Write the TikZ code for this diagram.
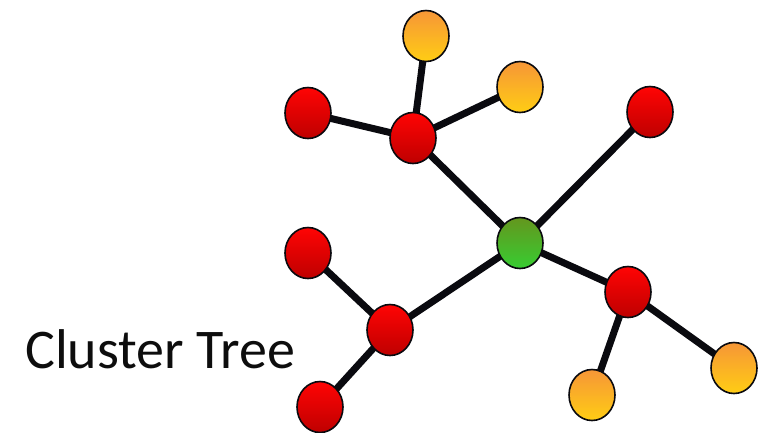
\documentclass[tikz,border=0pt]{standalone}
\usepackage{fontspec}
\setmainfont{Carlito}
\usetikzlibrary{shapes.geometric,backgrounds}
\definecolor{redtop}{RGB}{255,4,4}
\definecolor{redbot}{RGB}{190,0,0}
\definecolor{orgtop}{RGB}{246,150,55}
\definecolor{orgbot}{RGB}{255,205,20}
\definecolor{grntop}{RGB}{100,150,30}
\definecolor{grnbot}{RGB}{55,205,50}
\definecolor{edgeblk}{RGB}{10,10,15}
\tikzset{
  ball/.style={ellipse, draw=edgeblk, line width=1.6pt, inner sep=0pt,
    minimum width=46pt, minimum height=51pt},
  redball/.style={ball, top color=redtop, bottom color=redbot},
  orgball/.style={ball, top color=orgtop, bottom color=orgbot},
  grnball/.style={ball, top color=grntop, bottom color=grnbot},
  link/.style={draw=edgeblk, line width=7pt}
}
\begin{document}
\begin{tikzpicture}[x=1pt,y=-1pt]
\useasboundingbox (0,0) rectangle (767,432);
% nodes
\node[grnball] (hub) at (520,243) {};
\node[redball] (a) at (413,138) {};
\node[redball] (b) at (308,113) {};
\node[orgball] (c) at (426,36) {};
\node[orgball] (d) at (520,87) {};
\node[redball] (e) at (650,112) {};
\node[redball] (f) at (628,292) {};
\node[orgball] (g) at (592,395) {};
\node[orgball] (h) at (734,368) {};
\node[redball] (i) at (390,330) {};
\node[redball] (j) at (308,253) {};
\node[redball] (k) at (320,407) {};
% connectors
\begin{scope}[on background layer]
\draw[link] (a.center) -- (b.center);
\draw[link] (a.center) -- (c.center);
\draw[link] (a.center) -- (d.center);
\draw[link] (a.center) -- (hub.center);
\draw[link] (e.center) -- (hub.center);
\draw[link] (hub.center) -- (f.center);
\draw[link] (f.center) -- (g.center);
\draw[link] (f.center) -- (h.center);
\draw[link] (hub.center) -- (i.center);
\draw[link] (i.center) -- (j.center);
\draw[link] (i.center) -- (k.center);
\end{scope}
% title
\node[anchor=base west, inner sep=0pt, font=\fontsize{56}{60}\selectfont, text=black!95] (title) at (25,368) {Cluster Tree};
\end{tikzpicture}
\end{document}
